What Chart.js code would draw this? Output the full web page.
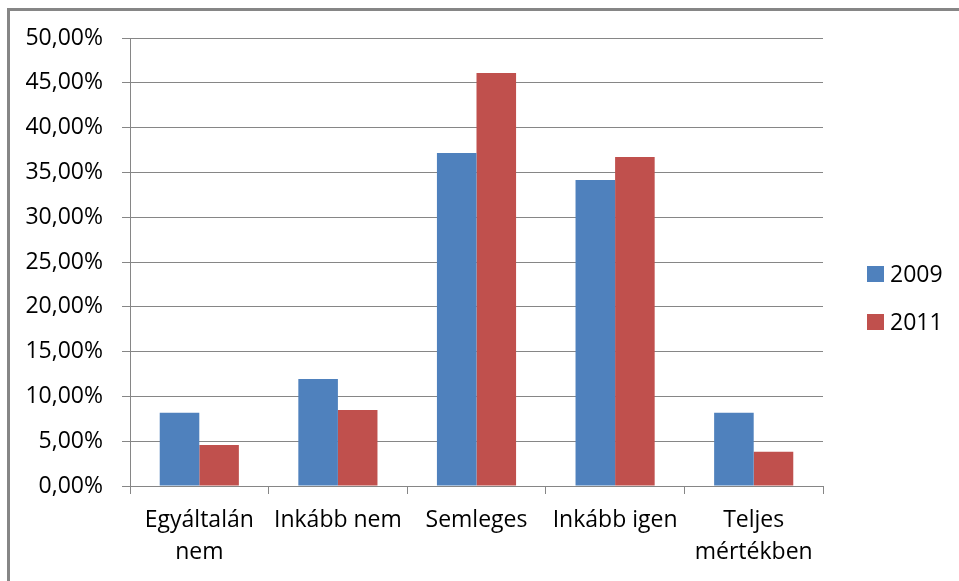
<!DOCTYPE html>
<html>
<head>
<meta charset="utf-8">
<script src="https://cdn.jsdelivr.net/npm/chart.js@4"></script>
<style>
  body { margin: 0; background: #fff; }
  #wrap { position: relative; width: 959px; height: 581px; overflow: hidden; }
  #frame { position: absolute; left: 7px; top: 8px; width: 1000px; height: 600px;
           border-left: 3px solid #868686; border-top: 3px solid #868686; }
  canvas { position: absolute; left: 0; top: 0; }
</style>
</head>
<body>
<div id="wrap">
  <div id="frame"></div>
  <canvas id="chartCanvas" width="959" height="581"></canvas>
</div>
<script>
const categories = [['Egyáltalán', 'nem'], 'Inkább nem', 'Semleges', 'Inkább igen', ['Teljes', 'mértékben']];
const values2009 = [8.18, 11.94, 37.17, 34.15, 8.18];
const values2011 = [4.58, 8.48, 46.09, 36.72, 3.83];
const yTickLabels = ['0,00%', '5,00%', '10,00%', '15,00%', '20,00%', '25,00%',
                     '30,00%', '35,00%', '40,00%', '45,00%', '50,00%'];

const fontFamily = '"Open Sans", sans-serif';
const gridGray = '#868686';

// legend on the right, drawn by hand so it sits where Excel put it
const sideLegend = {
    id: 'sideLegend',
    afterDraw(chart) {
        const ctx = chart.ctx;
        const rows = [274, 322];
        ctx.save();
        ctx.font = '23px ' + fontFamily;
        ctx.textBaseline = 'middle';
        chart.data.datasets.forEach((ds, i) => {
            ctx.fillStyle = ds.backgroundColor;
            ctx.fillRect(867, rows[i] - 8, 17, 16);
            ctx.fillStyle = '#000';
            ctx.fillText(ds.label, 890, rows[i] + 1);
        });
        ctx.restore();
    }
};

const ctx = document.getElementById('chartCanvas').getContext('2d');
new Chart(ctx, {
    type: 'bar',
    data: {
        labels: categories,
        datasets: [
            { label: '2009', data: values2009, backgroundColor: '#4F81BD' },
            { label: '2011', data: values2011, backgroundColor: '#C0504D' }
        ]
    },
    options: {
        responsive: false,
        animation: false,
        layout: { padding: { top: 38, right: 136, left: 0, bottom: 0 } },
        datasets: {
            bar: { categoryPercentage: 0.571, barPercentage: 1.0 }
        },
        plugins: {
            legend: { display: false },
            tooltip: { enabled: false }
        },
        scales: {
            x: {
                grid: {
                    offset: true,
                    drawOnChartArea: false,
                    drawTicks: true,
                    tickLength: 8,
                    color: gridGray
                },
                border: { color: gridGray },
                ticks: {
                    color: '#000',
                    padding: 10,
                    maxRotation: 0,
                    autoSkip: false,
                    font: { family: fontFamily, size: 23, lineHeight: 1.39 }
                },
                afterFit(scale) { scale.height = 581 - 486; }
            },
            y: {
                min: 0,
                max: 50,
                ticks: {
                    stepSize: 5,
                    color: '#000',
                    padding: 19,
                    font: { family: fontFamily, size: 23 },
                    callback: (v, i) => yTickLabels[i]
                },
                grid: { color: gridGray, tickLength: 8 },
                border: { color: gridGray },
                afterFit(scale) { scale.width = 130; }
            }
        }
    },
    plugins: [sideLegend]
});
</script>
</body>
</html>
